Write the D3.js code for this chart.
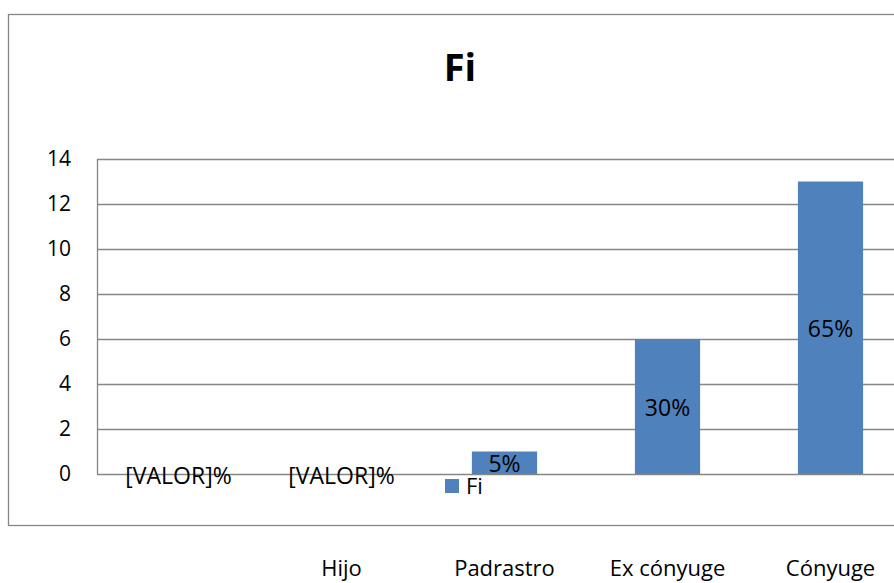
<!DOCTYPE html>
<html><head><meta charset="utf-8">
<script src="https://cdn.jsdelivr.net/npm/d3@7"></script>
<style>body{margin:0;background:#fff}svg{display:block}text{font-family:"Open Sans",sans-serif;fill:#000}</style>
</head><body><svg id="c" width="894" height="583"></svg>
<script>
const categories = ["", "Hijo", "Padrastro", "Ex cónyuge", "Cónyuge"];
const values = [0, 0, 1, 6, 13];
const dataLabels = ["[VALOR]%", "[VALOR]%", "5%", "30%", "65%"];
const yTicks = [0, 2, 4, 6, 8, 10, 12, 14];
const seriesName = "Fi";
const title = "Fi";

const svg = d3.select("#c");
const m = {left: 97, top: 159, right: 912, bottom: 474};
const x = d3.scaleBand().domain(d3.range(categories.length)).range([m.left, m.right]).paddingInner(0.6).paddingOuter(0.3);
const y = d3.scaleLinear().domain([0, 14]).range([m.bottom, m.top]);
const grey = "#868686";

// outer frame
svg.append("rect").attr("x", 8.5).attr("y", 14.5).attr("width", 920).attr("height", 511)
  .attr("fill", "none").attr("stroke", grey).attr("stroke-width", 1.3);

// title
svg.append("text").attr("x", 460).attr("y", 81).attr("text-anchor", "middle")
  .style("font-size", "38px").style("font-weight", "bold").text(title);

// gridlines
svg.append("g").selectAll("line").data(yTicks).join("line")
  .attr("x1", m.left).attr("x2", m.right)
  .attr("y1", d => Math.round(y(d)) + 0.5).attr("y2", d => Math.round(y(d)) + 0.5)
  .attr("stroke", grey).attr("stroke-width", 1.3);
// y axis line
svg.append("line").attr("x1", m.left + 0.5).attr("x2", m.left + 0.5).attr("y1", y(14)).attr("y2", y(0))
  .attr("stroke", grey).attr("stroke-width", 1.3);

// y tick labels
const ya = svg.append("g").attr("transform", `translate(${m.left},0)`)
  .call(d3.axisLeft(y).tickValues(yTicks).tickSize(0).tickPadding(26));
ya.select(".domain").remove();
ya.selectAll("text").style("font-size", "21px").style("font-family", "'Open Sans',sans-serif").attr("fill", "#000");

// bars
svg.append("g").selectAll("rect").data(values).join("rect")
  .attr("x", (d, i) => x(i)).attr("width", x.bandwidth())
  .attr("y", d => y(d)).attr("height", d => y(0) - y(d))
  .attr("fill", "#4F81BD");

// data labels (centered in bar)
svg.append("g").selectAll("text").data(values).join("text")
  .attr("x", (d, i) => x(i) + x.bandwidth() / 2)
  .attr("y", d => (y(d) + y(0)) / 2)
  .attr("dy", "0.42em").attr("text-anchor", "middle")
  .style("font-size", "23px")
  .text((d, i) => dataLabels[i]);

// legend
svg.append("rect").attr("x", 445).attr("y", 479).attr("width", 14).attr("height", 14).attr("fill", "#4F81BD");
svg.append("text").attr("x", 466).attr("y", 494).style("font-size", "22px").text(seriesName);

// category labels (below the frame)
const xa = svg.append("g").attr("transform", `translate(0,${m.bottom})`)
  .call(d3.axisBottom(x).tickFormat(i => categories[i]).tickSize(0).tickPadding(86));
xa.select(".domain").remove();
xa.selectAll("text").style("font-size", "22px").style("font-family", "'Open Sans',sans-serif").attr("fill", "#000");
</script></body></html>
